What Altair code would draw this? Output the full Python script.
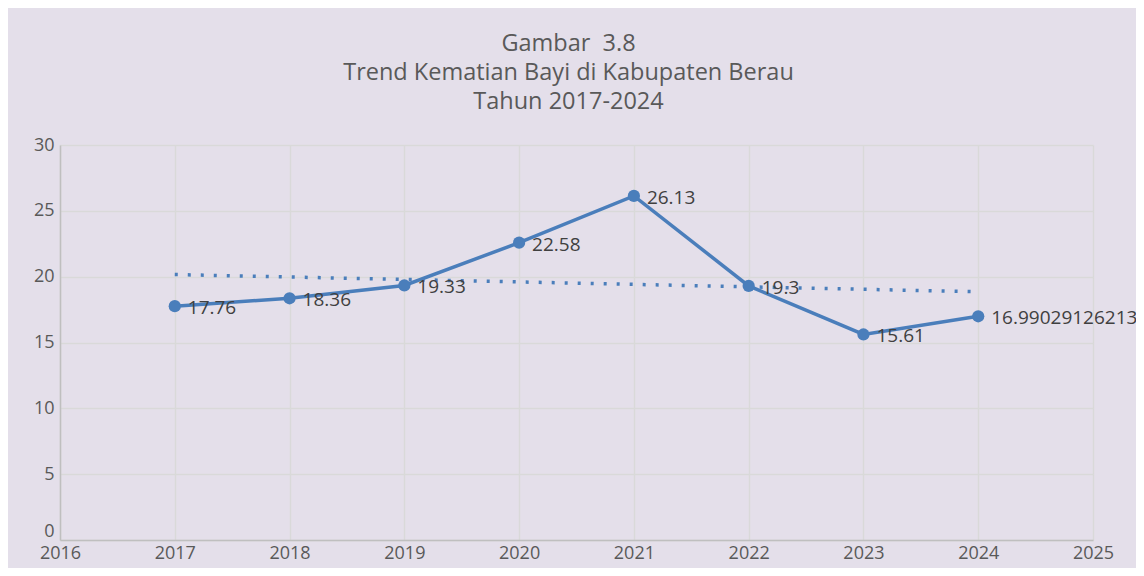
import altair as alt
import pandas as pd

years = [2017, 2018, 2019, 2020, 2021, 2022, 2023, 2024]
values = [17.76, 18.36, 19.33, 22.58, 26.13, 19.3, 15.61, 16.99029126213]
labels = ["17.76", "18.36", "19.33", "22.58", "26.13", "19.3", "15.61", "16.99029126213"]
title_lines = ["Gambar \u00a03.8", "Trend Kematian Bayi di Kabupaten Berau", "Tahun 2017-2024"]

df = pd.DataFrame({"year": years, "value": values, "label": labels})

FONT = "Open Sans"
BLUE = "#4a7ebb"

x = alt.X("year:Q", scale=alt.Scale(domain=[2016, 2025], nice=False),
          axis=alt.Axis(values=list(range(2016, 2026)), format="d", title=None,
                        labelFontSize=18, labelColor="#595959", labelFont=FONT,
                        labelFlush=False, labelOverlap=False,
                        ticks=False, domainColor="#bfbfbf", domainWidth=1.5,
                        gridColor="#d9d9d9", gridWidth=1.5, labelPadding=4))
y = alt.Y("value:Q", scale=alt.Scale(domain=[0, 30], nice=False),
          axis=alt.Axis(values=[0, 5, 10, 15, 20, 25, 30], title=None,
                        labelFontSize=18, labelColor="#595959", labelFont=FONT,
                        labelFlush=False, labelOverlap=False,
                        labelOffset={"condition": {"test": "datum.value == 0", "value": -9}, "value": 0},
                        ticks=False, domainColor="#bfbfbf", domainWidth=1.5,
                        gridColor="#d9d9d9", gridWidth=1.5, labelPadding=6))

base = alt.Chart(df)

trend = base.transform_regression("year", "value", extent=[2017, 2024]).mark_line(
    color=BLUE, strokeWidth=3.5, strokeDash=[3, 10], strokeCap="butt"
).encode(x=x, y=y)

line = base.mark_line(color=BLUE, strokeWidth=3.5).encode(x=x, y=y)
pts = base.mark_circle(color=BLUE, size=150, opacity=1).encode(x=x, y=y)
txt = base.mark_text(align="left", baseline="middle", dx=13, dy=2, fontSize=19,
                     font=FONT, color="#404040").encode(x=x, y=y, text="label:N")

chart = alt.layer(trend, line, pts, txt).properties(
    width=1033, height=395,
    title=alt.Title(title_lines, fontSize=23.5, font=FONT, color="#595959",
                    fontWeight="normal", anchor="middle", offset=23, lineHeight=29, dx=-8),
    autosize=alt.AutoSizeParams(type="none"),
    padding={"left": 52, "top": 137, "right": 43, "bottom": 28},
    background="#e4dfea",
).configure_view(stroke=None)

chart.save("out.html", embed_options={"renderer": "svg", "actions": False})
